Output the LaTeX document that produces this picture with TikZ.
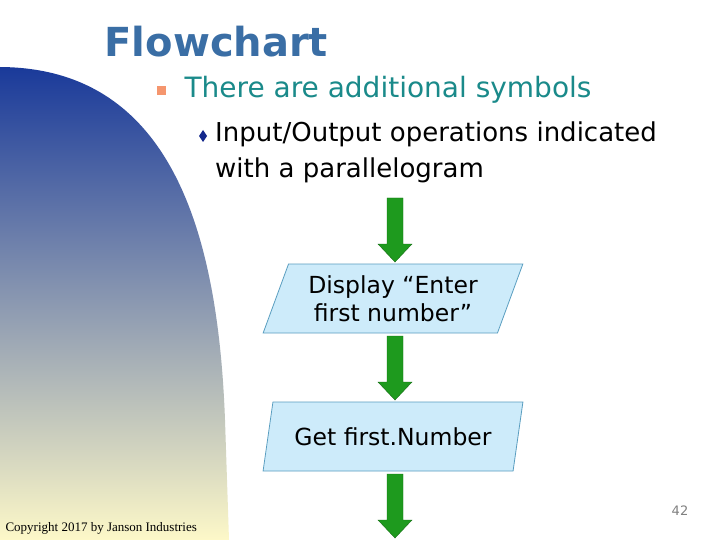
\documentclass[tikz,border=0pt]{standalone}
\usepackage{fontspec}
\setmainfont{DejaVu Sans}
\newfontfamily\serif{Liberation Serif}
\usetikzlibrary{shapes.geometric}
\definecolor{titleblue}{HTML}{3A6EA5}
\definecolor{teal}{HTML}{1A8A8A}
\definecolor{boxfill}{HTML}{CDEBFA}
\definecolor{boxline}{HTML}{5A9EC0}
\definecolor{arrowgreen}{HTML}{1E9A1E}
\tikzset{
  io/.style={trapezium, trapezium left angle=66, trapezium right angle=114, draw=boxline, fill=boxfill, line width=0.8pt, minimum width=260pt, minimum height=69pt, inner xsep=0pt, inner ysep=0pt, align=center, font=\fontsize{23.5}{28}\selectfont, trapezium stretches=true},
  blockarrow/.style={fill=arrowgreen, draw=arrowgreen!70!black, line width=0.4pt}
}
\newcommand{\blockarr}[2]{% x top, y top -> bottom
  \fill[blockarrow] (#1-8,#2) -- (#1+8,#2) -- (#1+8,{#2+46}) -- (#1+17,{#2+46}) -- (#1,{#2+64}) -- (#1-17,{#2+46}) -- (#1-8,{#2+46}) -- cycle;}
\begin{document}
\begin{tikzpicture}[x=1pt,y=-1pt]
\useasboundingbox (0,0) rectangle (720,540);
\fill[white] (0,0) rectangle (720,540);
% gradient region
\shade[top color={rgb,255:red,26;green,58;blue,154}, middle color={rgb,255:red,165;green,168;blue,172}, bottom color={rgb,255:red,253;green,248;blue,200}]
 (0,67) .. controls (170,68) and (218,230) .. (225,420) -- (229,540) -- (0,540) -- cycle;
\node[anchor=west, font=\bfseries\fontsize{40}{40}\selectfont, text=titleblue] (title) at (101,42) {Flowchart};
\fill[fill={rgb,255:red,245;green,150;blue,110}] (157,86) rectangle (166,95);
\node[anchor=west, font=\fontsize{28}{28}\selectfont, text=teal] (b1) at (181,90) {There are additional symbols};
\fill[fill={rgb,255:red,20;green,40;blue,140}] (203,130) -- (207,136) -- (203,142) -- (199,136) -- cycle;
\node[anchor=north west, font=\fontsize{26}{36}\selectfont, align=left, inner sep=0pt] (b2) at (215,122) {Input/Output operations indicated\\with a parallelogram};
\node[io] (p1) at (393,298.5) {Display “Enter\\first number”};
\node[io] (p2) at (393,436.5) {Get first.Number};
\blockarr{395}{198}
\blockarr{395}{336}
\blockarr{395}{474}
\node[font=\fontsize{13}{13}\selectfont, text=gray] (pg) at (680,511) {42};
\node[anchor=west, font=\serif\fontsize{13}{13}\selectfont] (copy) at (2,528) {Copyright 2017 by Janson Industries};
\end{tikzpicture}
\end{document}
